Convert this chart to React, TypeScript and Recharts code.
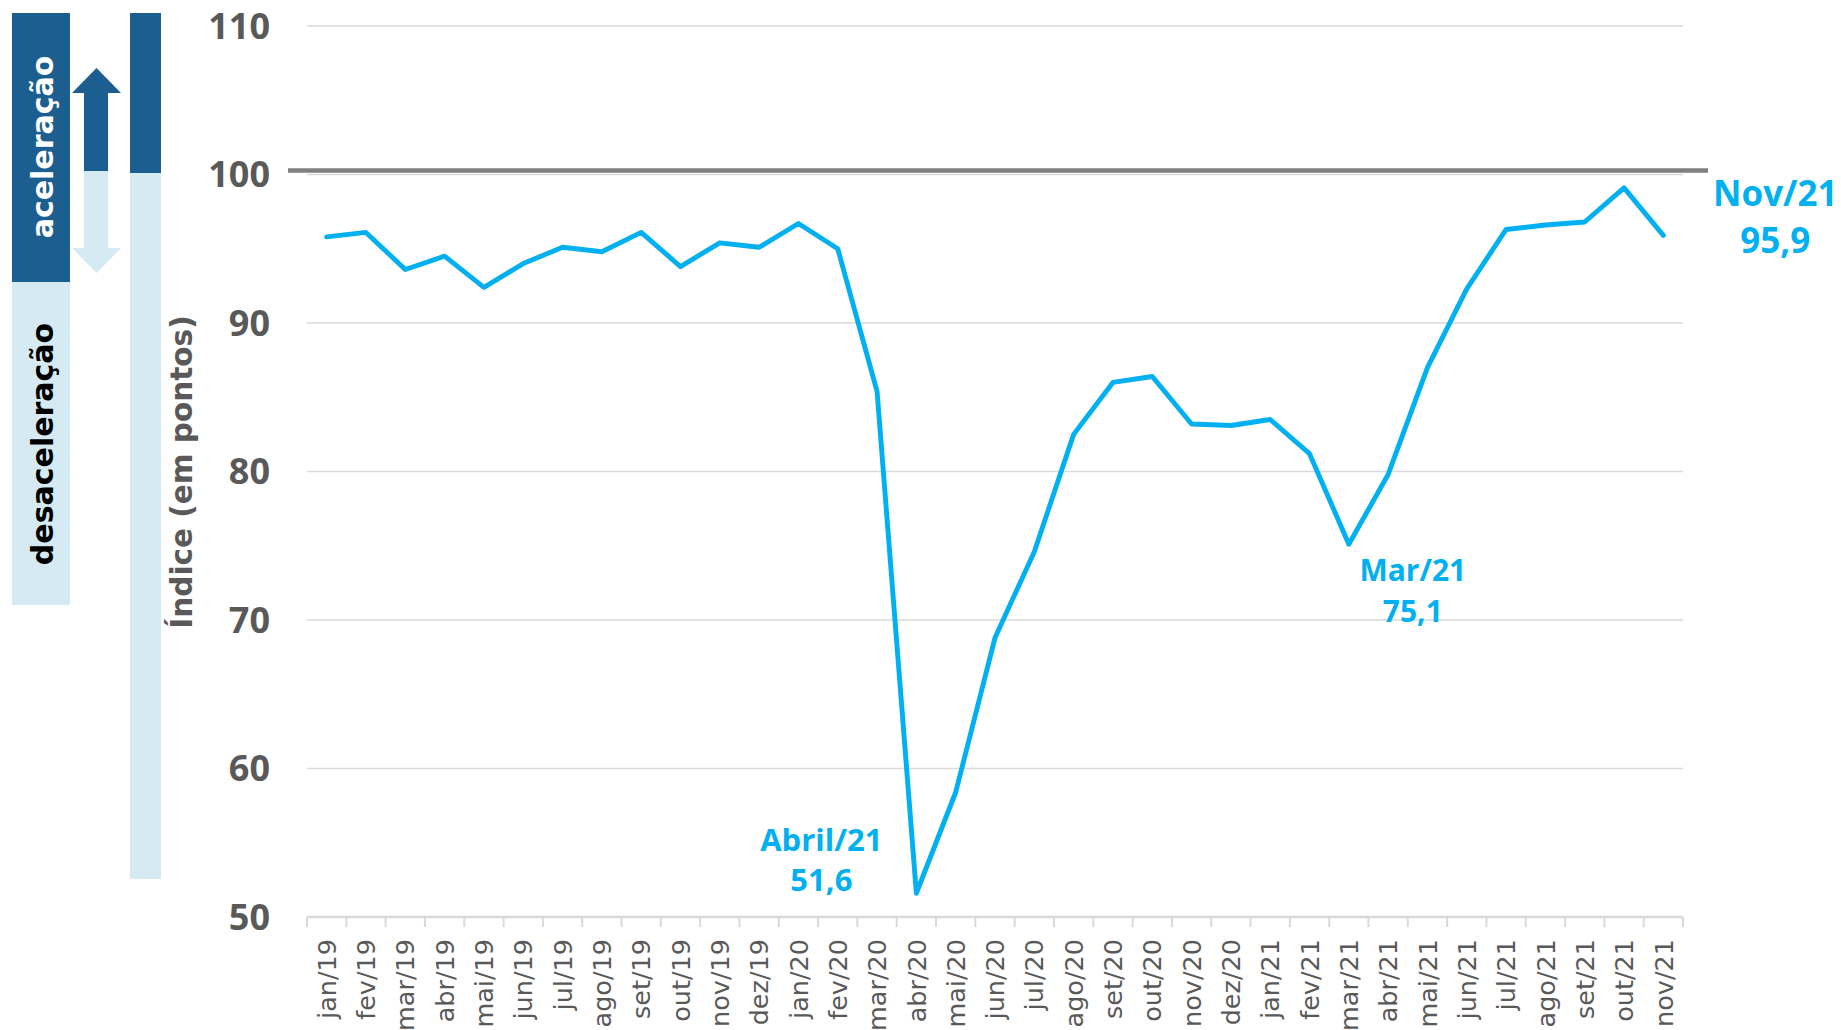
import React from 'react';
import { CartesianGrid, LabelList, Line, LineChart, ReferenceLine, XAxis, YAxis } from 'recharts';

const months = [
  'jan/19', 'fev/19', 'mar/19', 'abr/19', 'mai/19', 'jun/19', 'jul/19', 'ago/19', 'set/19', 'out/19', 'nov/19', 'dez/19',
  'jan/20', 'fev/20', 'mar/20', 'abr/20', 'mai/20', 'jun/20', 'jul/20', 'ago/20', 'set/20', 'out/20', 'nov/20', 'dez/20',
  'jan/21', 'fev/21', 'mar/21', 'abr/21', 'mai/21', 'jun/21', 'jul/21', 'ago/21', 'set/21', 'out/21', 'nov/21',
];

const indexValues = [
  95.8, 96.1, 93.6, 94.5, 92.4, 94.0, 95.1, 94.8, 96.1, 93.8, 95.4, 95.1,
  96.7, 95.0, 85.4, 51.6, 58.4, 68.8, 74.6, 82.5, 86.0, 86.4, 83.2, 83.1,
  83.5, 81.2, 75.1, 79.8, 87.0, 92.3, 96.3, 96.6, 96.8, 99.1, 95.9,
];

const yTicks = [50, 60, 70, 80, 90, 100, 110];

// destaques: mês do ponto, título exibido
const highlightMonths = ['abr/20', 'mar/21', 'nov/21'];
const highlightTitles = ['Abril/21', 'Mar/21', 'Nov/21'];

const data = months.map((m, i) => ({ month: m, value: indexValues[i] }));

const W = 1841;
const H = 1030;
const PLOT_LEFT = 307;
const PLOT_RIGHT = 1683;
const PLOT_TOP = 26;
const AXIS_H = 113;
const STEP = (PLOT_RIGHT - PLOT_LEFT) / months.length;

const BLUE = '#00B0F0';
const DARK = '#1D5E91';
const LIGHT = '#D5EAF2';
const GRAY = '#595959';
const GRID = '#D9D9D9';
const FONT = '"DejaVu Sans", sans-serif';
const BOLD_FONT = '"Open Sans", sans-serif';

// posição relativa de cada destaque: [dx, dy título, dy valor, fonte]
const highlightPos: Record<string, [number, number, number, number]> = {
  'abr/20': [-95, -42, -2, 31],
  'mar/21': [64, 37, 78, 30],
  'nov/21': [112, -29, 18, 35],
};

function MonthTick({ x, y, payload, index }: any) {
  const half = STEP / 2;
  const ty = y + 22;
  return (
    <g>
      <line x1={x - half} y1={y} x2={x - half} y2={y + 10} stroke={GRID} strokeWidth={2} />
      {index === months.length - 1 && (
        <line x1={x + half} y1={y} x2={x + half} y2={y + 10} stroke={GRID} strokeWidth={2} />
      )}
      <text
        x={x}
        y={ty}
        dy="0.36em"
        textAnchor="end"
        transform={`rotate(-90 ${x} ${ty})`}
        fontFamily={FONT}
        fontSize={25.5}
        fill={GRAY}
      >
        {payload.value}
      </text>
    </g>
  );
}

function HighlightLabel(props: any) {
  const { x, y, index, value } = props;
  const month = months[index];
  const k = highlightMonths.indexOf(month);
  if (k < 0) return null;
  const [dx, dy1, dy2, fs] = highlightPos[month];
  return (
    <g fontFamily={BOLD_FONT} fontWeight="bold" fill={BLUE} textAnchor="middle">
      <text x={x + dx} y={y + dy1} fontSize={fs}>{highlightTitles[k]}</text>
      <text x={x + dx} y={y + dy2} fontSize={fs}>{String(value).replace('.', ',')}</text>
    </g>
  );
}

function RefShape(props: any) {
  const { x1, x2, y1 } = props;
  return <line x1={x1 - 19} x2={x2 + 25} y1={y1 - 4} y2={y1 - 4} stroke="#7F7F7F" strokeWidth={4.3} />;
}

export default function App() {
  return (
    <div style={{ position: 'absolute', left: 0, top: 0, width: W, height: H, background: '#fff' }}>
      <LineChart
        width={W}
        height={H}
        data={data}
        margin={{ top: PLOT_TOP, right: W - PLOT_RIGHT, bottom: 0, left: 0 }}
      >
        <CartesianGrid vertical={false} stroke={GRID} strokeWidth={1.6} />
        <XAxis
          dataKey="month"
          height={AXIS_H}
          interval={0}
          padding={{ left: STEP / 2, right: STEP / 2 }}
          tickLine={false}
          tickSize={0}
          tickMargin={0}
          axisLine={{ stroke: GRID, strokeWidth: 2.5 }}
          tick={<MonthTick />}
        />
        <YAxis
          width={PLOT_LEFT}
          domain={[50, 110]}
          ticks={yTicks}
          axisLine={false}
          tickLine={false}
          tickSize={0}
          tickMargin={37}
          tick={{ fill: GRAY, fontSize: 36, fontWeight: 'bold', fontFamily: BOLD_FONT }}
        />
        <ReferenceLine y={100} shape={<RefShape />} />
        <Line
          type="linear"
          dataKey="value"
          stroke={BLUE}
          strokeWidth={4.9}
          strokeLinejoin="round"
          strokeLinecap="round"
          dot={false}
          isAnimationActive={false}
        >
          <LabelList dataKey="value" content={<HighlightLabel />} />
        </Line>
      </LineChart>

      <svg
        width={W}
        height={H}
        style={{ position: 'absolute', left: 0, top: 0, pointerEvents: 'none' }}
        fontFamily={FONT}
      >
        <rect x={12} y={13} width={58} height={269} fill={DARK} />
        <rect x={12} y={282} width={58} height={323} fill={LIGHT} />
        <rect x={130} y={13} width={31} height={160} fill={DARK} />
        <rect x={130} y={173} width={31} height={706} fill={LIGHT} />
        <polygon points="72,93 96.5,68 121,93" fill={DARK} />
        <rect x={84} y={93} width={24} height={78} fill={DARK} />
        <rect x={84} y={171} width={24} height={77} fill={LIGHT} />
        <polygon points="72,248 96.5,273 121,248" fill={LIGHT} />
        <text x={53} y={147} transform="rotate(-90 53 147)" textAnchor="middle" fontSize={30} fontWeight="bold" fill="#fff">
          aceleração
        </text>
        <text x={53} y={444} transform="rotate(-90 53 444)" textAnchor="middle" fontSize={30} fontWeight="bold" fill="#000">
          desaceleração
        </text>
        <text x={192} y={472} transform="rotate(-90 192 472)" textAnchor="middle" fontSize={29.5} fontWeight="bold" fill={GRAY}>
          Índice (em pontos)
        </text>
      </svg>
    </div>
  );
}
